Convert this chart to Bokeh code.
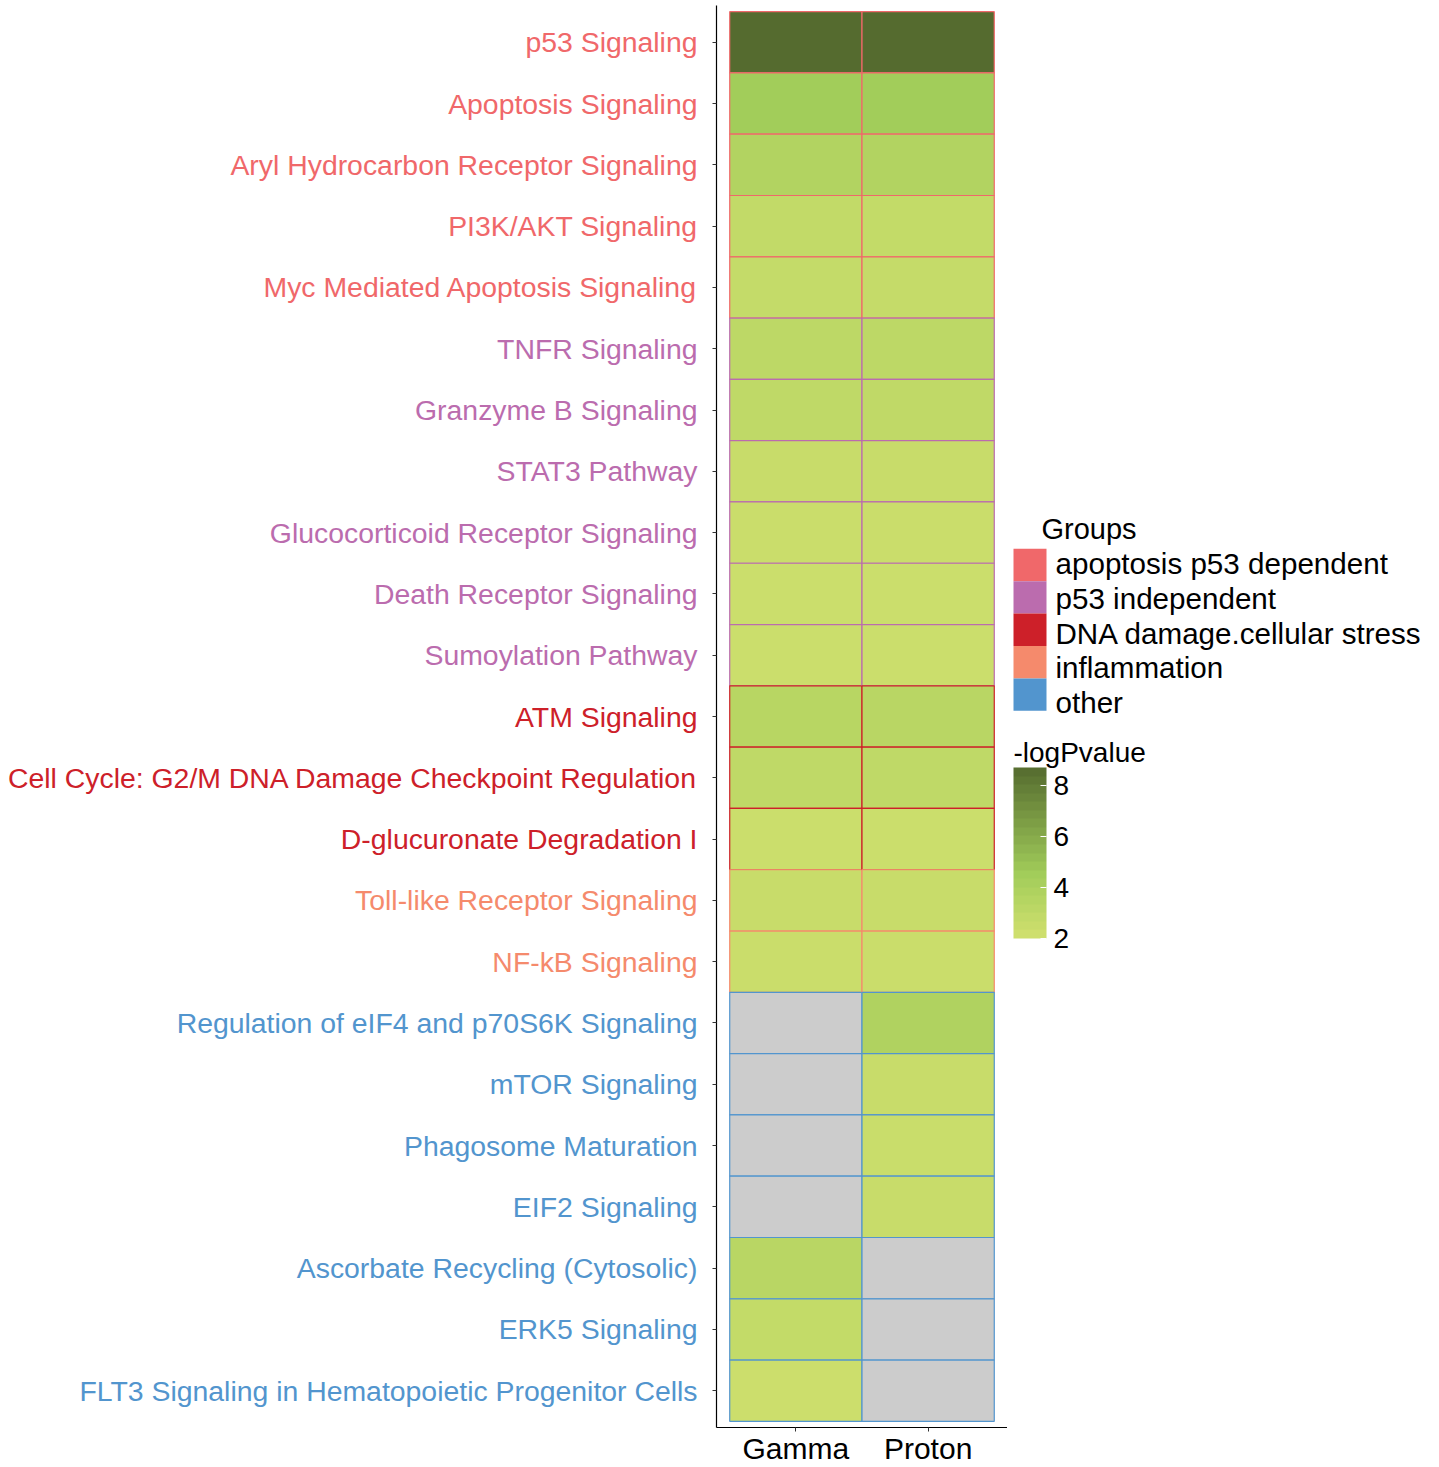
import numpy as np
from bokeh.plotting import figure
from bokeh.layouts import row
from bokeh.models import (ColumnDataSource, LinearColorMapper, ColorBar, FixedTicker,
                          Range1d)
from bokeh.transform import transform
from bokeh.core.properties import value
from bokeh.embed import file_html
from bokeh.resources import INLINE

# ---------------- data ----------------
pathways = [
    "p53 Signaling",
    "Apoptosis Signaling",
    "Aryl Hydrocarbon Receptor Signaling",
    "PI3K/AKT Signaling",
    "Myc Mediated Apoptosis Signaling",
    "TNFR Signaling",
    "Granzyme B Signaling",
    "STAT3 Pathway",
    "Glucocorticoid Receptor Signaling",
    "Death Receptor Signaling",
    "Sumoylation Pathway",
    "ATM Signaling",
    "Cell Cycle: G2/M DNA Damage Checkpoint Regulation",
    "D-glucuronate Degradation I",
    "Toll-like Receptor Signaling",
    "NF-kB Signaling",
    "Regulation of eIF4 and p70S6K Signaling",
    "mTOR Signaling",
    "Phagosome Maturation",
    "EIF2 Signaling",
    "Ascorbate Recycling (Cytosolic)",
    "ERK5 Signaling",
    "FLT3 Signaling in Hematopoietic Progenitor Cells",
]
pathway_groups = [
    "apoptosis p53 dependent", "apoptosis p53 dependent", "apoptosis p53 dependent",
    "apoptosis p53 dependent", "apoptosis p53 dependent",
    "p53 independent", "p53 independent", "p53 independent", "p53 independent",
    "p53 independent", "p53 independent",
    "DNA damage.cellular stress", "DNA damage.cellular stress", "DNA damage.cellular stress",
    "inflammation", "inflammation",
    "other", "other", "other", "other", "other", "other", "other",
]
nan = float("nan")
gamma_logp = [8.7, 4.5, 3.7, 2.8, 2.7, 3.05, 2.95, 2.5, 2.4, 2.35, 2.35,
              3.35, 2.95, 2.35, 2.5, 2.4, nan, nan, nan, nan, 3.3, 2.75, 2.3]
proton_logp = [8.7, 4.5, 3.65, 2.75, 2.65, 3.05, 2.9, 2.5, 2.4, 2.35, 2.35,
               3.3, 2.95, 2.35, 2.5, 2.4, 3.8, 2.5, 2.45, 2.5, nan, nan, nan]
conditions = ["Gamma", "Proton"]

group_names = ["apoptosis p53 dependent", "p53 independent", "DNA damage.cellular stress",
               "inflammation", "other"]
group_colors = ["#F0686A", "#BB6CAE", "#CD2029", "#F58A6C", "#5295CE"]

cbar_ticks = [2, 4, 6, 8]

# ---------------- styling ----------------
FONT = "Liberation Sans"
VMIN, VMAX = 2.0, 8.7
anchor_vals = [2.0, 2.3, 4.5, 8.7]
anchor_cols = ["#D0E06E", "#CCDE6C", "#A2CD5A", "#556B2F"]


def hex2rgb(h):
    return [int(h[i:i + 2], 16) for i in (1, 3, 5)]


def make_palette(n):
    rgbs = np.array([hex2rgb(c) for c in anchor_cols], dtype=float)
    out = []
    for k in range(n):
        v = VMIN + (VMAX - VMIN) * (k + 0.5) / n
        r, g, b = (np.interp(v, anchor_vals, rgbs[:, j]) for j in range(3))
        out.append("#%02X%02X%02X" % (int(round(r)), int(round(g)), int(round(b))))
    return out


cell_mapper = LinearColorMapper(palette=make_palette(256), low=VMIN, high=VMAX,
                                nan_color="#CCCCCC")
bar_mapper = LinearColorMapper(palette=make_palette(20), low=VMIN, high=VMAX)

color_of = dict(zip(group_names, group_colors))
n = len(pathways)
rows_idx = list(range(1, n + 1))

xs, ys, vals, lcs = [], [], [], []
for ci, series in enumerate([gamma_logp, proton_logp]):
    for ri in range(n):
        xs.append(ci + 1)
        ys.append(ri + 1)
        vals.append(series[ri])
        lcs.append(color_of[pathway_groups[ri]])
tiles = ColumnDataSource(dict(x=xs, y=ys, v=np.array(vals, dtype=float), lc=lcs))

FRAME_H = 1422
TOP = 5
y_range = Range1d(n + 0.6, 0.4)

# ---------------- left labels figure ----------------
lab = figure(frame_width=694, frame_height=FRAME_H, x_range=Range1d(0, 1), y_range=y_range,
             output_backend="svg", toolbar_location=None,
             min_border_left=8, min_border_right=0, min_border_top=TOP, min_border_bottom=0,
             x_axis_location=None, y_axis_location=None, outline_line_color=None)
lab.grid.visible = False
lab_src = ColumnDataSource(dict(x=[1] * n, y=rows_idx, t=pathways,
                                c=[color_of[g] for g in pathway_groups]))
lab.text(x="x", y="y", text="t", text_color="c", source=lab_src,
         text_align="right", text_baseline="middle", x_offset=-5,
         text_font=value(FONT), text_font_size="28.4px")

# ---------------- main heatmap ----------------
p = figure(frame_width=291, frame_height=FRAME_H, x_range=Range1d(0.4, 2.6),
           y_range=y_range, output_backend="svg", toolbar_location=None,
           min_border_left=14, min_border_right=0, min_border_top=TOP,
           min_border_bottom=0, outline_line_color=None)
p.grid.visible = False
p.rect(x="x", y="y", width=1, height=1, source=tiles,
       fill_color=transform("v", cell_mapper), line_color="lc", line_width=1.2)

p.xaxis.ticker = FixedTicker(ticks=[1, 2])
p.xaxis.major_label_overrides = {1: conditions[0], 2: conditions[1]}
p.xaxis.major_label_text_font = FONT
p.xaxis.major_label_text_font_size = "30px"
p.xaxis.major_label_text_color = "black"
p.xaxis.major_label_standoff = 0
p.yaxis.ticker = FixedTicker(ticks=rows_idx)
p.yaxis.major_label_overrides = {i: "" for i in rows_idx}
for ax in (p.xaxis, p.yaxis):
    ax.axis_line_color = "black"
    ax.axis_line_width = 1.2
    ax.major_tick_line_color = "#333333"
    ax.major_tick_out = 4
    ax.major_tick_in = 0
    ax.minor_tick_line_color = None

# ---------------- legend figure ----------------
LW = 424
leg = figure(frame_width=LW, frame_height=FRAME_H, x_range=Range1d(0, LW),
             y_range=Range1d(FRAME_H, 0),
             output_backend="svg", toolbar_location=None,
             min_border_left=0, min_border_right=0, min_border_top=TOP, min_border_bottom=0,
             x_axis_location=None, y_axis_location=None, outline_line_color=None)
leg.grid.visible = False

sw_top = 548.3 - TOP
sw_h = 32.4
k = len(group_names)
sw = ColumnDataSource(dict(
    left=[6] * k, right=[39] * k,
    top=[sw_top + sw_h * i for i in range(k)],
    bottom=[sw_top + sw_h * (i + 1) for i in range(k)],
    c=group_colors))
leg.quad(left="left", right="right", top="top", bottom="bottom", fill_color="c",
         line_color=None, source=sw)
leg_txt = ColumnDataSource(dict(x=[48] * k, y=[563 - TOP + 34.75 * i for i in range(k)],
                                t=group_names))
leg.text(x="x", y="y", text="t", source=leg_txt, text_align="left",
         text_baseline="middle", text_color="black",
         text_font=value(FONT), text_font_size="29.6px")
leg.text(x=[34], y=[528 - TOP], text=["Groups"], text_align="left", text_baseline="middle",
         text_color="black", text_font=value(FONT), text_font_size="29px")
leg.text(x=[6], y=[752 - TOP], text=["-logPvalue"], text_align="left",
         text_baseline="middle", text_color="black",
         text_font=value(FONT), text_font_size="28px")

BAR_BOTTOM = 938 - TOP
cb = ColorBar(color_mapper=bar_mapper, ticker=FixedTicker(ticks=cbar_ticks),
              width=33, height=171, location=(6, FRAME_H - BAR_BOTTOM),
              title=None, padding=0,
              major_label_text_font=FONT, major_label_text_font_size="28px",
              major_label_text_color="black", label_standoff=7,
              major_tick_line_color="white", major_tick_in=6, major_tick_out=0,
              minor_tick_line_color=None, bar_line_color=None,
              border_line_color=None, background_fill_alpha=0)
leg.add_layout(cb, "center")

layout = row(lab, p, leg)
open("out.html", "w").write(file_html(layout, INLINE))
